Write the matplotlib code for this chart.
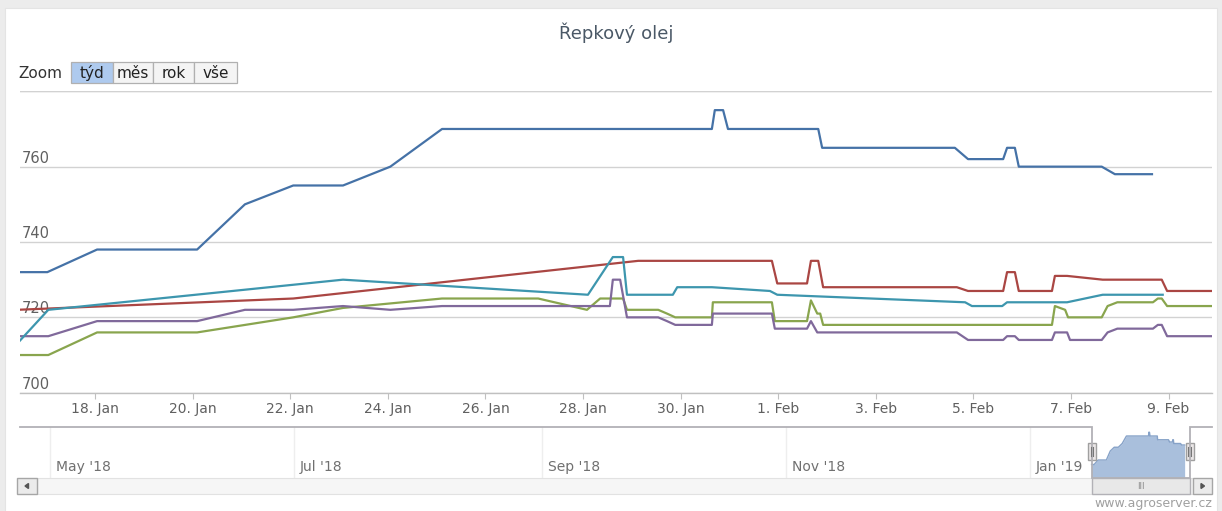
import numpy as np
import matplotlib
matplotlib.use('Agg')
import matplotlib.pyplot as plt
import matplotlib.dates as mdates
from matplotlib.patches import Rectangle, Polygon
from datetime import datetime

# ---------------- data ----------------
title = 'Řepkový olej'
zoom_label = 'Zoom'
zoom_buttons = ['týd', 'měs', 'rok', 'vše']
watermark = 'www.agroserver.cz'

# time as day number counted from 31 Dec 2018 (18 = 18 Jan, 32 = 1 Feb)
blue_t = [16.4, 17.02, 18.04, 20.09, 21.07, 22.06, 23.08, 24.05, 25.11, 30.64, 30.70, 30.87,
          30.97, 32.82, 32.90, 35.62, 35.89, 36.61, 36.69, 36.85, 36.93, 38.63, 38.90, 39.66]
blue_v = [732, 732, 738, 738, 750, 755, 755, 760, 770, 770, 775, 775,
          770, 770, 765, 765, 762, 762, 765, 765, 760, 760, 758, 758]

red_t = [16.4, 22.06, 29.13, 31.87, 31.98, 32.59, 32.67, 32.82, 32.92, 35.66, 35.89,
         36.61, 36.69, 36.85, 36.93, 37.61, 37.67, 37.92, 38.65, 39.86, 39.97, 40.9]
red_v = [722, 725, 735, 735, 729, 729, 735, 735, 728, 728, 727,
         727, 732, 732, 727, 727, 731, 731, 730, 730, 727, 727]

green_t = [16.4, 17.04, 18.04, 20.09, 22.06, 23.08, 25.11, 27.08, 28.08, 28.35,
           28.82, 28.90, 29.54, 29.72, 29.89, 30.64, 30.66, 31.87, 31.93, 32.59,
           32.67, 32.80, 32.86, 32.92, 37.61, 37.67, 37.88, 37.94, 38.63, 38.75,
           38.95, 39.68, 39.78, 39.86, 39.97, 40.9]
green_v = [710, 710, 716, 716, 720, 722.5, 725, 725, 722, 725,
           725, 722, 722, 721, 720, 720, 724, 724, 719, 719,
           724.5, 721, 721, 718, 718, 723, 722, 720, 720, 723,
           724, 724, 725, 725, 723, 723]

purple_t = [16.4, 17.04, 18.04, 20.09, 21.07, 22.06, 23.08, 24.05, 25.11, 28.55,
            28.61, 28.76, 28.90, 29.54, 29.72, 29.89, 30.64, 30.66, 31.87, 31.93,
            32.59, 32.67, 32.80, 32.92, 35.66, 35.89, 36.61, 36.69, 36.85, 36.93,
            37.61, 37.67, 37.92, 37.98, 38.63, 38.75, 38.95, 39.68, 39.78, 39.86,
            39.97, 40.9]
purple_v = [715, 715, 719, 719, 722, 722, 723, 722, 723, 723,
            730, 730, 720, 720, 719, 718, 718, 721, 721, 717,
            717, 719, 716, 716, 716, 714, 714, 715, 715, 714,
            714, 716, 716, 714, 714, 716, 717, 717, 718, 718,
            715, 715]

teal_t = [16.4, 17.04, 23.08, 28.10, 28.61, 28.82, 28.90, 29.84, 29.93, 30.64,
          31.83, 31.98, 35.83, 35.97, 36.59, 36.69, 37.92, 38.65, 39.88]
teal_v = [713, 722, 730, 726, 736, 736, 726, 726, 728, 728,
          727, 726, 724, 723, 723, 724, 724, 726, 726]

y_ticks = [700, 720, 740, 760, 780]
y_labels = [700, 720, 740, 760]
nav_months = ['2018-05-01', '2018-07-01', '2018-09-01', '2018-11-01', '2019-01-01']

# view ranges (day numbers)
main_range = (16.46, 40.89)
nav_range = (-251.5, 46.5)

# ---------------- figure ----------------
W, H = 1222, 511
fig = plt.figure(figsize=(W / 100, H / 100), dpi=100)
fig.patch.set_facecolor('#ececec')

BASE = mdates.date2num(datetime(2018, 12, 31))

def d(arr):
    return BASE + np.asarray(arr, dtype=float)

# background (pixel coords)
bg = fig.add_axes([0, 0, 1, 1], zorder=0)
bg.set_xlim(0, W); bg.set_ylim(H, 0); bg.axis('off')
bg.add_patch(Rectangle((5, 8), 1212, 510, facecolor='white', edgecolor='#e4e4e4', lw=0.8))

# title
bg.text(616, 33, title, ha='center', va='center', fontsize=13, color='#4a5866')

# ---------------- main axes ----------------
top_px, bot_px = 91.3, 392.7
ax = fig.add_axes([20 / W, 1 - bot_px / H, 1192 / W, (bot_px - top_px) / H], zorder=2)
ax.set_facecolor('none')
ax.set_xlim(d(main_range[0]), d(main_range[1]))
ax.set_ylim(700, 780)
for s in ['top', 'left', 'right']:
    ax.spines[s].set_visible(False)
ax.spines['bottom'].set_color('#c0c0c0')
ax.spines['bottom'].set_linewidth(1.0)

ax.set_yticks(y_ticks)
ax.yaxis.grid(True, color='#d2d2d2', lw=1.0)
ax.tick_params(axis='y', length=0, labelleft=False)
ax.axhline(780, color='#c4c4c4', lw=1.6, zorder=1)
for v in y_labels:
    ax.annotate(str(v), xy=(0, v), xycoords=('axes fraction', 'data'),
                xytext=(1.5, 6.2), textcoords='offset points',
                ha='left', va='center', fontsize=10.5, color='#606060')

ax.set_xticks(d(np.arange(18, 41, 2)))
ax.xaxis.set_major_formatter(mdates.DateFormatter('%-d. %b'))
ax.tick_params(axis='x', length=4, color='#c0c0c0', labelsize=10,
               labelcolor='#606060', pad=3)

colors = ['#4572A7', '#AA4643', '#89A54E', '#80699B', '#3D96AE']
series = [(blue_t, blue_v), (red_t, red_v), (green_t, green_v),
          (purple_t, purple_v), (teal_t, teal_v)]
for (t, v), c in zip(series, colors):
    ax.plot(d(t), v, color=c, lw=1.6, solid_joinstyle='round', zorder=3)

# ---------------- navigator ----------------
nav_top, nav_bot = 427, 478
axn = fig.add_axes([20 / W, 1 - nav_bot / H, 1192 / W, (nav_bot - nav_top) / H], zorder=2)
axn.set_facecolor('none')
axn.set_xlim(d(nav_range[0]), d(nav_range[1]))
axn.set_ylim(714, 782)
for s in axn.spines.values():
    s.set_visible(False)
axn.set_yticks([])
axn.set_xticks([])

fmt = mdates.DateFormatter("%b '%y")
for m in nav_months:
    tk = mdates.date2num(datetime.strptime(m, '%Y-%m-%d'))
    axn.axvline(tk, color='#eeeeee', lw=1, zorder=0)
    axn.annotate(fmt(tk), xy=(tk, 0), xycoords=('data', 'axes fraction'),
                 xytext=(4, 8), textcoords='offset points', ha='left', va='center',
                 fontsize=10, color='#707070')

axn.fill_between(d(blue_t), blue_v, 714, color='#a9bfdc', lw=0, zorder=1)
axn.plot(d(blue_t), blue_v, color='#86a2c8', lw=1, zorder=2)

def nav_px(day):
    return 20 + (day - nav_range[0]) / (nav_range[1] - nav_range[0]) * 1192

hx0, hx1 = nav_px(main_range[0]), nav_px(main_range[1])

# overlay (pixel coords) for controls
ov = fig.add_axes([0, 0, 1, 1], zorder=5)
ov.set_facecolor('none')
ov.set_xlim(0, W); ov.set_ylim(H, 0); ov.axis('off')

# navigator outline
ov.plot([20, hx0, hx0, hx1, hx1, 1212],
        [nav_top, nav_top, nav_bot, nav_bot, nav_top, nav_top],
        color='#b2b1b6', lw=1.3, solid_joinstyle='miter')

# scrollbar
ov.add_patch(Rectangle((37, 478), 1193 - 37, 16, facecolor='#f6f6f6', edgecolor='#e2e2e2', lw=0.8))
ov.add_patch(Rectangle((hx0, 478), hx1 - hx0, 16, facecolor='#e8e8e8', edgecolor='#b2b1b6', lw=1))
ov.text((hx0 + hx1) / 2, 486.5, 'III', ha='center', va='center', fontsize=6, color='#888888')
ov.add_patch(Rectangle((17, 478), 20, 16, facecolor='#ebebeb', edgecolor='#a6a6a6', lw=1))
ov.add_patch(Polygon([[25, 486], [28.5, 483.5], [28.5, 488.5]], closed=True, color='#555555'))
ov.add_patch(Rectangle((1193, 478), 19, 16, facecolor='#ebebeb', edgecolor='#a6a6a6', lw=1))
ov.add_patch(Polygon([[1204.5, 486], [1201, 483.5], [1201, 488.5]], closed=True, color='#555555'))

# handles
for hx in (hx0, hx1):
    ov.add_patch(Rectangle((hx - 4, 443), 8, 17, facecolor='#ebe7e8', edgecolor='#a0a0a0', lw=1))
    ov.plot([hx - 1.2, hx - 1.2], [447, 456], color='#777777', lw=0.8)
    ov.plot([hx + 1.2, hx + 1.2], [447, 456], color='#777777', lw=0.8)

# range selector
bg.text(18, 73, zoom_label, ha='left', va='center', fontsize=11, color='#333333')
btn_x = [71, 113, 153, 194, 237]
for i, lab in enumerate(zoom_buttons):
    x0, x1 = btn_x[i], btn_x[i + 1]
    fc = '#aecaee' if i == 0 else '#f4f4f4'
    bg.add_patch(Rectangle((x0, 62), x1 - x0, 21, facecolor=fc, edgecolor='#b0b0b0', lw=0.9))
    bg.text((x0 + x1) / 2, 73, lab, ha='center', va='center', fontsize=11, color='#222222')

# watermark
ov.text(1212, 504, watermark, ha='right', va='center', fontsize=9, color='#a0a0a0')

fig.savefig('out.png', dpi=100, facecolor=fig.get_facecolor())
